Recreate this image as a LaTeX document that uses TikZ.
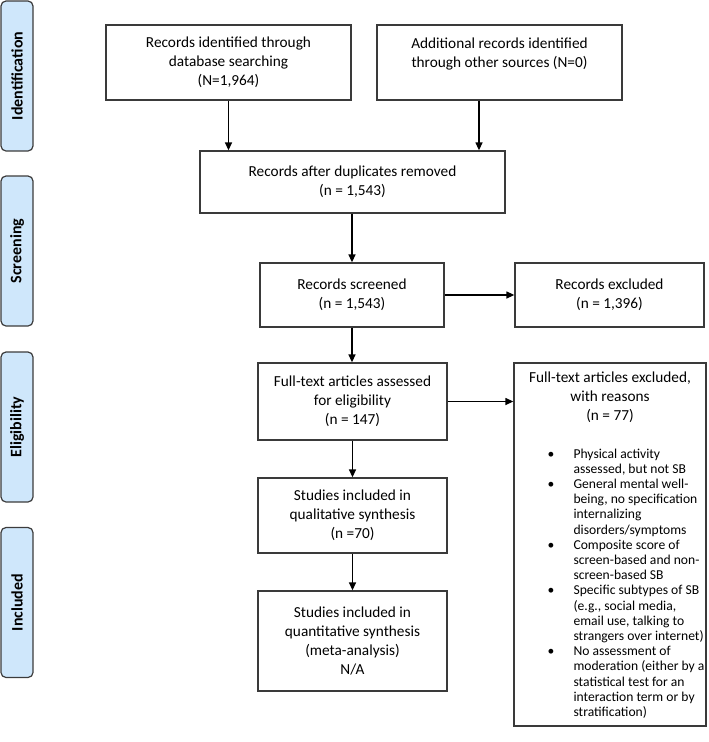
\documentclass[tikz,border=0pt]{standalone}
\usepackage{fontspec}
\setmainfont{Carlito}
\usetikzlibrary{arrows.meta}
\definecolor{boxline}{HTML}{3A3A3A}
\definecolor{phasefill}{HTML}{CFE7FB}
\definecolor{phaseline}{HTML}{3C3C3C}
\begin{document}
\begin{tikzpicture}[x=1pt,y=-1pt,
  box/.style={draw=boxline, line width=1.3pt, fill=white, align=center, inner sep=0pt,
    font=\fontsize{15.3}{19}\selectfont},
  phase/.style={draw=phaseline, line width=1.2pt, fill=phasefill, rounded corners=5pt,
    rotate=90, minimum width=150pt, minimum height=32pt, inner sep=0pt,
    font=\fontsize{16}{18}\selectfont\bfseries},
  plain/.style={inner sep=0pt, font=\fontsize{15.3}{19}\selectfont},
  arr/.style={-{Triangle[length=8pt,width=7pt]}, line width=1.3pt, draw=black}]
\useasboundingbox (0,0) rectangle (709,742);

% phase labels
\node[phase] (p1) at (17,76) {Identification};
\node[phase] (p2) at (17,251) {Screening};
\node[phase] (p3) at (17,427) {Eligibility};
\node[phase] (p4) at (17,602.5) {Included};

% boxes
\node[box, minimum width=245pt, minimum height=75pt] (b1) at (228.5,62.5)
  {Records identified through\\database searching\\(N=1,964)};
\node[box, minimum width=245pt, minimum height=75pt] (b2) at (499.5,62.5)
  {Additional records identified\\through other sources (N=0)\\\mbox{}};
\node[box, minimum width=305pt, minimum height=62pt] (b3) at (352.5,182)
  {Records after duplicates removed\\(n = 1,543)};
\node[box, minimum width=184pt, minimum height=64pt] (b4) at (352,295)
  {Records screened\\(n = 1,543)};
\node[box, minimum width=189pt, minimum height=64pt] (b5) at (609.5,295)
  {Records excluded\\(n = 1,396)};
\node[box, minimum width=189pt, minimum height=77pt] (b6) at (352.5,401.5)
  {Full-text articles assessed\\for eligibility\\(n = 147)};
\node[box, minimum width=192pt, minimum height=363pt] (b7) at (610,544.5) {};
\node[box, minimum width=189pt, minimum height=75pt] (b8) at (352.5,515.5)
  {Studies included in\\qualitative synthesis\\(n =70)};
\node[box, minimum width=189pt, minimum height=100pt] (b9) at (352.5,641)
  {Studies included in\\quantitative synthesis\\(meta-analysis)\\N/A};

% contents of the exclusion box
\node[plain, align=center, anchor=north] (b7t) at ([yshift=-9pt]b7.north)
  {Full-text articles excluded,\\with reasons\\(n = 77)};
\node[plain, anchor=north west] (b7l) at ([xshift=34pt, yshift=-85pt]b7.north west)
  {\fontsize{13.6}{15.2}\selectfont
   \begin{tabular}{@{}p{26pt}@{}l@{}}
   \textbullet & Physical activity\\
               & assessed, but not SB\\
   \textbullet & General mental well-\\
               & being, no specification\\
               & internalizing\\
               & disorders/symptoms\\
   \textbullet & Composite score of\\
               & screen-based and non-\\
               & screen-based SB\\
   \textbullet & Specific subtypes of SB\\
               & (e.g., social media,\\
               & email use, talking to\\
               & strangers over internet)\\
   \textbullet & No assessment of\\
               & moderation (either by a\\
               & statistical test for an\\
               & interaction term or by\\
               & stratification)
   \end{tabular}};

% connectors
\draw[arr] (b1.south) -- (b1.south |- b3.north);
\draw[arr] ([xshift=-20.5pt]b2.south) -- ([xshift=-20.5pt]b2.south |- b3.north);
\draw[arr] (b4.north |- b3.south) -- (b4.north);
\draw[arr] (b4.east) -- (b4.east -| b5.west);
\draw[arr] (b4.south) -- (b4.south |- b6.north);
\draw[arr] (b6.east) -- (b6.east -| b7.west);
\draw[arr] (b6.south) -- (b8.north);
\draw[arr] (b8.south) -- (b9.north);
\end{tikzpicture}
\end{document}
